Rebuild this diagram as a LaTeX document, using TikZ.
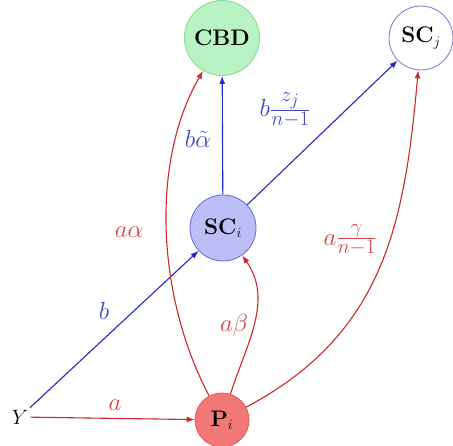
\documentclass[tikz,border=0pt]{standalone}
\usepackage{amsmath}
\usetikzlibrary{arrows.meta}
\definecolor{redline}{RGB}{205,40,45}
\definecolor{blueline}{RGB}{40,40,200}
\definecolor{redlab}{RGB}{215,70,70}
\definecolor{bluelab}{RGB}{70,70,200}
\definecolor{cbdfill}{RGB}{185,242,195}
\definecolor{cbddraw}{RGB}{140,220,150}
\definecolor{scifill}{RGB}{188,190,245}
\definecolor{scidraw}{RGB}{110,115,215}
\definecolor{pfill}{RGB}{242,120,120}
\definecolor{pdraw}{RGB}{225,100,100}
\definecolor{scjdraw}{RGB}{130,130,215}
\begin{document}
\begin{tikzpicture}[x=1pt,y=1pt,
  vert/.style={circle,inner sep=0pt,line width=0.9pt,font=\fontsize{22.5}{27}\selectfont},
  redarr/.style={draw=redline,line width=1.1pt,-{Latex[length=8pt,width=6pt]}},
  bluearr/.style={draw=blueline,line width=1.1pt,-{Latex[length=8pt,width=6pt]}},
  lab/.style={font=\Huge,inner sep=1pt},
  redtext/.style={lab,text=redlab},
  bluetext/.style={lab,text=bluelab}]
\useasboundingbox (0,0) rectangle (453,-446);
\node[vert,fill=cbdfill,draw=cbddraw,minimum size=75pt] (CBD) at (222,-38) {\textbf{CBD}};
\node[vert,fill=white,draw=scjdraw,minimum size=64pt] (SCj) at (421,-38) {\textbf{SC}$_j$};
\node[vert,fill=scifill,draw=scidraw,minimum size=66pt] (SCi) at (223,-228) {\textbf{SC}$_i$};
\node[vert,fill=pfill,draw=pdraw,minimum size=54pt] (P) at (222,-420) {\textbf{P}$_i$};
\node[font=\huge,inner sep=2pt] (Y) at (20,-417) {$Y$};

\draw[redarr] (Y) -- (P);
\draw[bluearr] (Y) -- (SCi);
\draw[bluearr] (SCi) -- (CBD);
\draw[bluearr] (SCi) -- (SCj);
\draw[redarr] (P) to[out=118,in=-120,looseness=0.85] (CBD);
\draw[redarr] (P) to[out=72,in=-55] (SCi);
\draw[redarr] (P) to[out=28,in=-95,looseness=1.05] (SCj);

\node[redtext] (la) at (115,-405) {$a$};
\node[bluetext] (lb) at (104,-311) {$b$};
\node[redtext] (laa) at (129,-232) {$a\alpha$};
\node[redtext] (lab) at (234,-325) {$a\beta$};
\node[redtext] (lag) at (350,-240) {$a\frac{\gamma}{n-1}$};
\node[bluetext] (lbt) at (198,-139) {$b\tilde{\alpha}$};
\node[bluetext] (lbz) at (285,-110) {$b\frac{z_j}{n-1}$};
\end{tikzpicture}
\end{document}
